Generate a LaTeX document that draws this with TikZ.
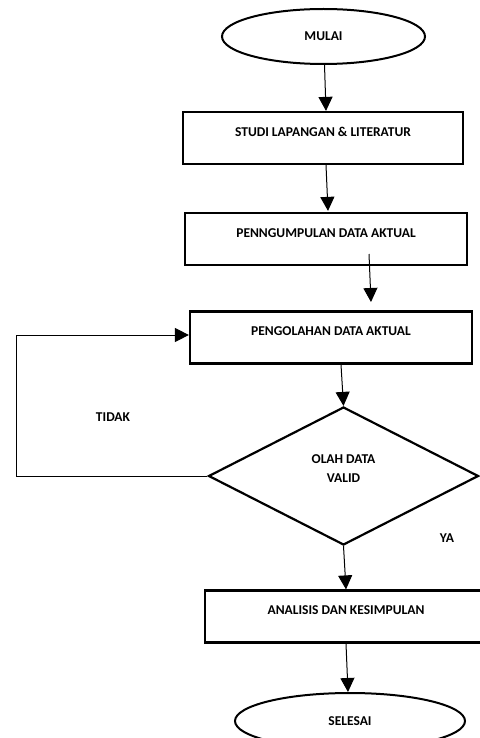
\documentclass[tikz,border=0pt]{standalone}
\usepackage{fontspec}
\setmainfont{Carlito}
\usetikzlibrary{shapes.geometric,arrows.meta}
\tikzset{>={Triangle[length=14pt,width=14pt]}}
\tikzset{%
    terminal/.style={ellipse, draw, line width=2pt, inner sep=0pt,
        font=\bfseries\fontsize{13.5}{15}\selectfont},
    proses/.style={rectangle, draw, line width=2.2pt, inner sep=0pt,
        minimum height=52pt, text depth=12pt,
        font=\bfseries\fontsize{13.5}{15}\selectfont},
    keputusan/.style={diamond, draw, line width=2.2pt, inner sep=0pt,
        aspect=1.95, minimum width=270pt, minimum height=138pt},
    teks/.style={font=\bfseries\fontsize{13.5}{19}\selectfont, align=center},
    panah/.style={->, line width=1pt}
}

\begin{document}
\begin{tikzpicture}[x=1pt,y=-1pt]
\useasboundingbox (0,0) rectangle (479,738);

\node[terminal, minimum width=203pt, minimum height=55pt] (mulai) at (323.5,36.5) {MULAI};
\node[proses, minimum width=280pt] (studi) at (323,138) {STUDI LAPANGAN \& LITERATUR};
\node[proses, minimum width=282pt] (kumpul) at (326,239) {PENNGUMPULAN DATA AKTUAL};
\node[proses, minimum width=282pt] (olah) at (331,337.5) {PENGOLAHAN DATA AKTUAL};
\node[keputusan] (valid) at (343.5,476) {};
\node[teks] at ([yshift=7.5pt]valid.center) {OLAH DATA\\VALID};
\node[proses, minimum width=282pt] (analisis) at (346,616.5) {ANALISIS DAN KESIMPULAN};
\node[terminal, minimum width=230pt, minimum height=56pt, text depth=0pt] (selesai) at (350,721) {SELESAI};

\node[teks] (tidak) at (113,417) {TIDAK};
\node[teks] (ya) at (447,538) {YA};

\coordinate (awal) at (369,254);
\coordinate (ujung) at (371,302);
\coordinate (balik) at (16,476);

\draw[panah] ([xshift=1pt]mulai.south) -- ([xshift=3pt]studi.north);
\draw[panah] ([xshift=3pt]studi.south) -- ([xshift=2pt,yshift=1pt]kumpul.north);
\draw[panah] (awal) -- (ujung);
\draw[panah] ([xshift=10pt]olah.south) -- (valid.north);
\draw[panah] (valid.west) -- (balik) |- ([yshift=2.5pt]olah.west);
\draw[panah] (valid.south) -- (analisis.north);
\draw[panah] ([xshift=0pt]analisis.south) -- ([xshift=-2pt]selesai.north);
\end{tikzpicture}
\end{document}
